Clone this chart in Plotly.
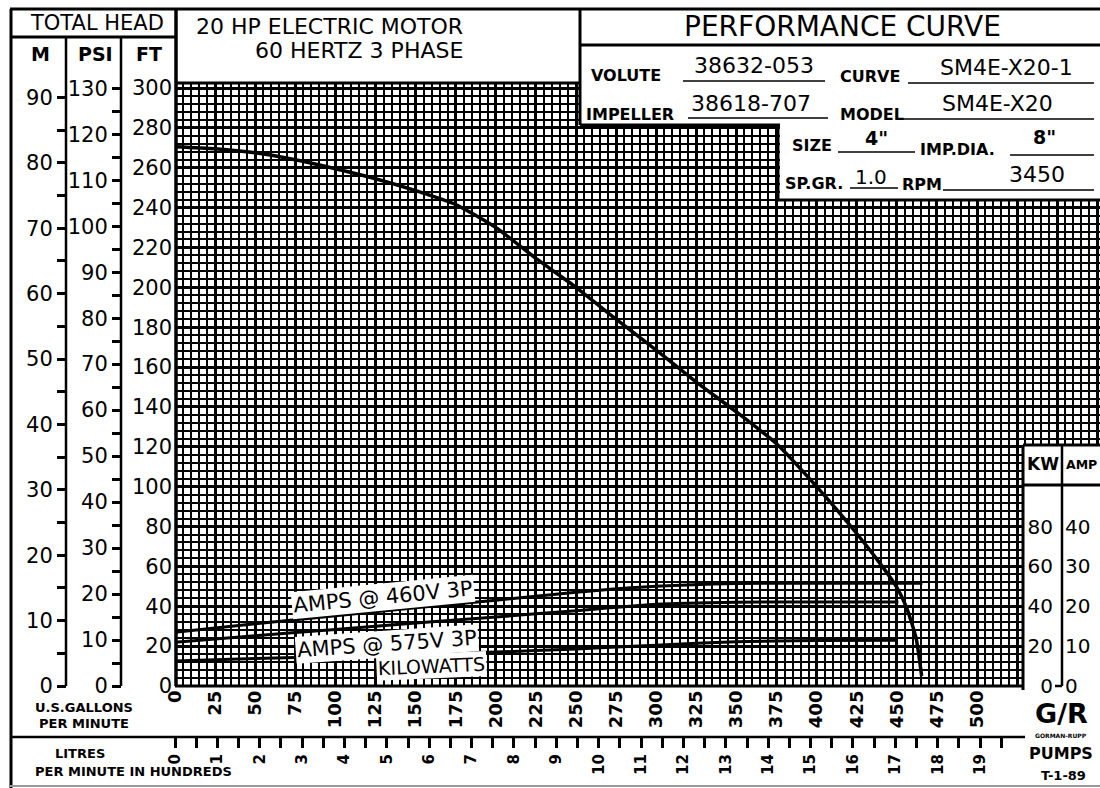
import plotly.graph_objects as go

W, H = 1100, 788

# ---------------- data ----------------
gpm_head = [0, 25, 50, 75, 100, 125, 150, 175, 200, 225, 250, 275, 300, 325, 350,
            375, 400, 425, 440, 450, 456, 462, 465.5]
head_ft = [270.5, 269.5, 267.5, 264.0, 259.5, 254.5, 248.5, 241.5, 230.0, 214.5, 200.0,
           184.0, 168.5, 152.5, 137.5, 121.5, 100.0, 76.5, 61.0, 49.5, 39.5, 24.0, 5.0]

gpm_a460 = [0, 50, 100, 150, 200, 250, 300, 350, 400, 450, 466]
amps_460 = [13.5, 15.6, 17.6, 19.6, 21.5, 23.5, 25.0, 25.7, 25.8, 25.8, 25.8]

gpm_a575 = [0, 50, 100, 150, 200, 250, 300, 350, 400, 451]
amps_575 = [11.0, 12.6, 14.2, 15.8, 17.3, 18.9, 20.5, 21.0, 21.1, 21.1]

gpm_kw = [0, 50, 100, 150, 200, 250, 300, 350, 400, 450]
kilowatts = [12.5, 13.8, 14.8, 15.8, 17.0, 18.6, 20.5, 22.2, 22.8, 23.0]

gpm_ticks = list(range(0, 576, 25))
gpm_labels = [str(v) if v <= 500 else "" for v in gpm_ticks]
litre_ticks = [i / 2 for i in range(0, 40)]
litre_labels = [str(int(v)) if v == int(v) else "" for v in litre_ticks]
m_ticks = list(range(0, 91, 10))
psi_ticks = list(range(0, 131, 10))
kw_ticks = [0, 20, 40, 60, 80]
amp_ticks = [0, 10, 20, 30, 40]

FT_PER_M = 3.28084
FT_PER_PSI = 2.30666
L_PER_GAL = 3.78541

# ---------------- geometry (pixels) ----------------
X_LEFT, X_RIGHT = 175, 1100
Y_BOT, Y_TOP = 686, 83
PX_PER_GPM = 802 / 500
PX_PER_FT = 598 / 300
GPM_MAX = (X_RIGHT - X_LEFT) / PX_PER_GPM
FT_MAX = (Y_BOT - Y_TOP) / PX_PER_FT

def px(x):
    return x / W

def py(y):
    return 1 - y / H

FONT = "DejaVu Sans"
xdom = [px(X_LEFT), 1.0]
ydom = [py(Y_BOT), py(Y_TOP)]

fig = go.Figure()

fig.add_trace(go.Scatter(x=gpm_head, y=head_ft, mode="lines", name="Head",
                         line=dict(color="black", width=3.5, shape="spline", smoothing=0.6),
                         hoverinfo="skip"))
fig.add_trace(go.Scatter(x=gpm_a460, y=amps_460, mode="lines", name="AMPS @ 460V 3P",
                         line=dict(color="black", width=3, shape="spline", smoothing=0.5),
                         yaxis="y5", hoverinfo="skip"))
fig.add_trace(go.Scatter(x=gpm_a575, y=amps_575, mode="lines", name="AMPS @ 575V 3P",
                         line=dict(color="black", width=3, shape="spline", smoothing=0.5),
                         yaxis="y5", hoverinfo="skip"))
fig.add_trace(go.Scatter(x=gpm_kw, y=kilowatts, mode="lines", name="KILOWATTS",
                         line=dict(color="black", width=3, shape="spline", smoothing=0.5),
                         yaxis="y4", hoverinfo="skip"))
# empty traces so the metre, psi and litre scales get their own subplots (and are drawn)
for (xa, ya) in (("x", "y2"), ("x", "y3"), ("x2", "y")):
    fig.add_trace(go.Scatter(x=[None], y=[None], xaxis=xa, yaxis=ya, mode="lines",
                             hoverinfo="skip", showlegend=False))

tick_font = dict(family=FONT, size=21, color="black")
bold_tick = dict(family=FONT, size=18, color="black", weight="bold")

side_axis = dict(overlaying="y", anchor="free", side="left", showgrid=False, zeroline=False,
                 showline=False, ticks="outside", ticklen=9, tickwidth=2.5, tickcolor="black",
                 tickfont=tick_font, tickmode="array", automargin=False,
                 minor=dict(tickmode="linear", tick0=0, dtick=5, ticks="outside", ticklen=9,
                            tickwidth=2.5, tickcolor="black", showgrid=False))

fig.update_layout(
    template="none",
    width=W, height=H, autosize=False,
    margin=dict(l=0, r=0, t=0, b=0, pad=0),
    paper_bgcolor="white", plot_bgcolor="white",
    showlegend=False,
    xaxis=dict(domain=xdom, range=[0, GPM_MAX], tickmode="array", tickvals=gpm_ticks,
               ticktext=gpm_labels, tickangle=-90, tickfont=bold_tick, ticks="",
               showgrid=True, gridcolor="black", gridwidth=3.2, zeroline=False, showline=False,
               automargin=False,
               minor=dict(tickmode="linear", tick0=0, dtick=5, showgrid=True,
                          gridcolor="black", gridwidth=1.8)),
    xaxis2=dict(overlaying="x", anchor="free", position=py(737), side="bottom", domain=xdom,
                range=[0, GPM_MAX * L_PER_GAL / 100], tickmode="array", tickvals=litre_ticks,
                ticktext=litre_labels, tickangle=-90, ticks="outside", ticklen=10, tickwidth=2.5,
                tickcolor="black", tickfont=dict(family=FONT, size=15, color="black", weight="bold"),
                showgrid=False, zeroline=False, showline=False, automargin=False),
    yaxis=dict(domain=ydom, range=[0, FT_MAX], tickmode="linear", tick0=0, dtick=20,
               tickfont=tick_font, ticks="", showgrid=True, gridcolor="black", gridwidth=3.2,
               zeroline=False, showline=False, ticklabelstandoff=2, automargin=False,
               minor=dict(tickmode="linear", tick0=0, dtick=4, showgrid=True,
                          gridcolor="black", gridwidth=1.8)),
    yaxis2=dict(side_axis, position=px(66), range=[0, FT_MAX / FT_PER_M], tickvals=m_ticks),
    yaxis3=dict(side_axis, position=px(121), range=[0, FT_MAX / FT_PER_PSI], tickvals=psi_ticks),
    yaxis4=dict(overlaying="y", anchor="free", position=px(1062), side="left",
                range=[0, FT_MAX], tickmode="array", tickvals=kw_ticks, ticks="",
                ticklabelstandoff=9,
                tickfont=dict(family=FONT, size=20, color="black"), showgrid=False,
                zeroline=False, showline=False, automargin=False),
    yaxis5=dict(overlaying="y", anchor="free", position=px(1062), side="right",
                range=[0, FT_MAX / 2], tickmode="array", tickvals=amp_ticks, ticks="",
                ticklabelstandoff=2,
                tickfont=dict(family=FONT, size=20, color="black"), showgrid=False,
                zeroline=False, showline=False, automargin=False),
)

shapes = []

def line(x0, y0, x1, y1, w=3, color="black"):
    shapes.append(dict(type="line", xref="paper", yref="paper", x0=px(x0), y0=py(y0),
                       x1=px(x1), y1=py(y1), line=dict(color=color, width=w), layer="above"))

def box(x0, y0, x1, y1):
    shapes.append(dict(type="rect", xref="paper", yref="paper", x0=px(x0), y0=py(y0),
                       x1=px(x1), y1=py(y1), fillcolor="white", line=dict(width=0), layer="above"))

# white boxes over the grid (header panel, top right)
box(580, 9, 1100, 125)
box(780, 125, 1100, 200)
# KW / AMP box: covers grid but stays below the axis labels
shapes.append(dict(type="rect", xref="x", yref="y", x0=(1023 - X_LEFT) / PX_PER_GPM,
                   x1=GPM_MAX + 20, y0=-20, y1=(Y_BOT - 445) / PX_PER_FT,
                   fillcolor="white", line=dict(width=0), layer="between"))

# frame and dividers
line(10, 9, 1100, 9, 3)
line(11, 9, 11, 788, 3)
line(10, 37, 176, 37, 3)
line(66, 37, 66, 686, 2.5)
line(121, 37, 121, 686, 2.5)
line(176, 9, 176, 686, 3.5)
line(176, 83, 580, 83, 3)
line(175, 686, 1023, 686, 3)
line(10, 737, 1025, 737, 2.5)
line(10, 786, 1100, 786, 2, "#999999")
# info panel
line(580, 9, 580, 125, 3)
line(580, 45, 1100, 45, 3)
line(580, 125, 780, 125, 3)
line(778, 125, 778, 200, 3)
line(778, 200, 1100, 200, 3)
# KW / AMP box
line(1023, 445, 1023, 690, 3)
line(1023, 445, 1100, 445, 3)
line(1023, 485, 1100, 485, 3)
line(1062, 445, 1062, 686, 2.5)
line(1055, 686, 1062, 686, 2.5)
# underlines in the info panel
for (a, b, y) in [(683, 825, 81), (908, 1094, 83), (688, 828, 118), (903, 1094, 119),
                  (838, 915, 152), (1010, 1094, 155), (850, 898, 188), (943, 1094, 190)]:
    line(a, y, b, y, 1.5)

ann = []

def txt(x, y, s, size, bold=False, anchor="center", family=FONT):
    ann.append(dict(x=px(x), y=py(y), xref="paper", yref="paper", text=s, showarrow=False,
                    xanchor=anchor, yanchor="middle",
                    font=dict(family=family, size=size, color="black",
                              weight="bold" if bold else "normal")))

txt(97, 23, "TOTAL HEAD", 21)
txt(40, 54, "M", 19, True)
txt(95, 54, "PSI", 19, True)
txt(149, 54, "FT", 19, True)
txt(465, 27, "20 HP ELECTRIC MOTOR", 22, anchor="right")
txt(465, 50, "60 HERTZ 3 PHASE", 22, anchor="right")
txt(842, 26, "PERFORMANCE CURVE", 28)
txt(589, 76, "VOLUTE", 16, True, "left")
txt(754, 65, "38632-053", 22)
txt(838, 77, "CURVE", 16, True, "left")
txt(1006, 67, "SM4E-X20-1", 22)
txt(584, 114, "IMPELLER", 16, True, "left")
txt(751, 103, "38618-707", 22)
txt(838, 115, "MODEL", 16, True, "left")
txt(997, 104, "SM4E-X20", 22)
txt(790, 146, "SIZE", 16, True, "left")
txt(876, 138, "4\"", 19, True)
txt(918, 149, "IMP.DIA.", 16, True, "left")
txt(1044, 137, "8\"", 19, True)
txt(783, 183, "SP.GR.", 16, True, "left")
txt(871, 177, "1.0", 20)
txt(900, 184, "RPM", 16, True, "left")
txt(1037, 175, "3450", 22)
txt(1043, 464, "KW", 17, True)
txt(1081, 464, "AMP", 12.5, True)
txt(84, 707, "U.S.GALLONS", 13, True)
txt(84, 723, "PER MINUTE", 13, True)
txt(80, 753, "LITRES", 13, True)
txt(33, 771, "PER MINUTE IN HUNDREDS", 13, True, "left")
txt(1061, 713, "G/R", 27, True)
txt(1061, 735, "GORMAN-RUPP", 6, True)
txt(1061, 753, "PUMPS", 16, True)
txt(1063, 775, "T-1-89", 13, True)

# curve labels (placed in data coordinates)
for (gx, fy, s, size, ang) in [(129.7, 44.6, "AMPS @ 460V 3P", 21, -5.5),
                               (132.2, 21.1, "AMPS @ 575V 3P", 21, -4),
                               (159.6, 10.0, "KILOWATTS", 19, -2.5)]:
    ann.append(dict(x=gx, y=fy, xref="x", yref="y", text=s, showarrow=False,
                    textangle=ang, bgcolor="white", borderpad=1,
                    font=dict(family=FONT, size=size, color="black")))

fig.update_layout(shapes=shapes, annotations=ann)
fig.write_html("out.html", config={"displayModeBar": False},
               post_script="document.body.style.margin='0px';document.body.style.overflow='hidden';")
